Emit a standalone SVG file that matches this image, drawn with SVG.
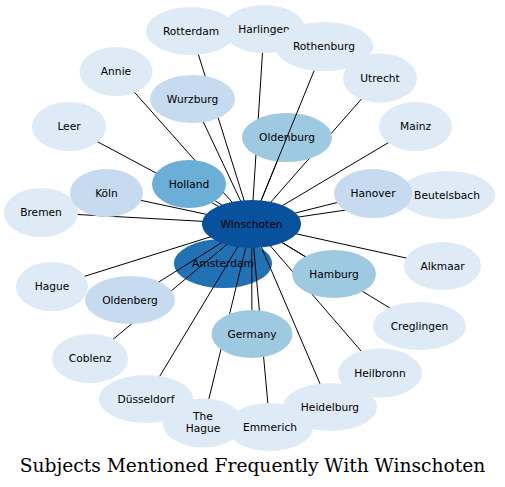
<svg xmlns="http://www.w3.org/2000/svg" width="505" height="487" viewBox="0 0 505 487">
<style>
.n text{font-family:"DejaVu Sans",sans-serif;font-size:10.67px;text-anchor:middle;fill:#000}
.c0{fill:#deebf7}.c1{fill:#c6dbef}.c2{fill:#9ecae1}.c3{fill:#6baed6}.c5{fill:#2171b5}.c6{fill:#08519c}
.edges line{stroke:#000;stroke-width:1}
.title{font-family:"DejaVu Serif",serif;font-size:18.67px;text-anchor:middle;fill:#000}
</style>
<rect width="505" height="487" fill="#fff"/>
<g id="amsterdam" class="n"><ellipse class="c5" cx="223" cy="263.5" rx="49" ry="24.5"/><text x="223" y="267.3">Amsterdam</text></g>
<g id="edges" class="edges">
<line x1="251.5" y1="224" x2="191" y2="31"/>
<line x1="251.5" y1="224" x2="264" y2="29"/>
<line x1="251.5" y1="224" x2="380" y2="78"/>
<line x1="251.5" y1="224" x2="116" y2="71.5"/>
<line x1="251.5" y1="224" x2="192.5" y2="99"/>
<line x1="251.5" y1="224" x2="287" y2="137.5"/>
<line x1="251.5" y1="224" x2="69" y2="126.5"/>
<line x1="251.5" y1="224" x2="415.5" y2="126.5"/>
<line x1="251.5" y1="224" x2="189" y2="184"/>
<line x1="251.5" y1="224" x2="106.5" y2="193"/>
<line x1="251.5" y1="224" x2="41" y2="212.5"/>
<line x1="251.5" y1="224" x2="373" y2="193.5"/>
<line x1="251.5" y1="224" x2="447" y2="195"/>
<line x1="251.5" y1="224" x2="442.5" y2="266"/>
<line x1="251.5" y1="224" x2="334" y2="274"/>
<line x1="251.5" y1="224" x2="419.5" y2="326"/>
<line x1="251.5" y1="224" x2="52" y2="286.5"/>
<line x1="251.5" y1="224" x2="130" y2="300"/>
<line x1="251.5" y1="224" x2="90" y2="358.5"/>
<line x1="251.5" y1="224" x2="252" y2="334"/>
<line x1="251.5" y1="224" x2="380" y2="373"/>
<line x1="251.5" y1="224" x2="146" y2="399"/>
<line x1="251.5" y1="224" x2="203" y2="423"/>
<line x1="251.5" y1="224" x2="270" y2="427"/>
<line x1="251.5" y1="224" x2="330" y2="407"/>
</g>
<g id="oldenburg" class="n"><ellipse class="c2" cx="287" cy="137.5" rx="45" ry="24.5"/><text x="287" y="141.3">Oldenburg</text></g>
<g id="edges-over" class="edges">
<line x1="251.5" y1="224" x2="324" y2="46.5"/>
</g>
<g id="bremen" class="n"><ellipse class="c0" cx="41" cy="212.5" rx="37" ry="24.5"/><text x="41" y="216.3">Bremen</text></g>
<g id="koln" class="n"><ellipse class="c1" cx="106.5" cy="193" rx="36.5" ry="24"/><text x="106.5" y="196.8">Köln</text></g>
<g id="leer" class="n"><ellipse class="c0" cx="69" cy="126.5" rx="37" ry="24.5"/><text x="69" y="130.3">Leer</text></g>
<g id="annie" class="n"><ellipse class="c0" cx="116" cy="71.5" rx="36.5" ry="24.5"/><text x="116" y="75.3">Annie</text></g>
<g id="rotterdam" class="n"><ellipse class="c0" cx="191" cy="31" rx="45" ry="24"/><text x="191" y="34.8">Rotterdam</text></g>
<g id="harlingen" class="n"><ellipse class="c0" cx="264" cy="29" rx="41" ry="24"/><text x="264" y="32.8">Harlingen</text></g>
<g id="rothenburg" class="n"><ellipse class="c0" cx="324" cy="46.5" rx="49" ry="24.5"/><text x="324" y="50.3">Rothenburg</text></g>
<g id="utrecht" class="n"><ellipse class="c0" cx="380" cy="78" rx="37" ry="24.5"/><text x="380" y="81.8">Utrecht</text></g>
<g id="mainz" class="n"><ellipse class="c0" cx="415.5" cy="126.5" rx="36.5" ry="24.5"/><text x="415.5" y="130.3">Mainz</text></g>
<g id="wurzburg" class="n"><ellipse class="c1" cx="192.5" cy="99" rx="42.5" ry="24"/><text x="192.5" y="102.8">Wurzburg</text></g>
<g id="holland" class="n"><ellipse class="c3" cx="189" cy="184" rx="37" ry="24"/><text x="189" y="187.8">Holland</text></g>
<g id="beutelsbach" class="n"><ellipse class="c0" cx="447" cy="195" rx="48" ry="24"/><text x="447" y="198.8">Beutelsbach</text></g>
<g id="hanover" class="n"><ellipse class="c1" cx="373" cy="193.5" rx="39" ry="24.5"/><text x="373" y="197.3">Hanover</text></g>
<g id="alkmaar" class="n"><ellipse class="c0" cx="442.5" cy="266" rx="38.5" ry="24"/><text x="442.5" y="269.8">Alkmaar</text></g>
<g id="hamburg" class="n"><ellipse class="c2" cx="334" cy="274" rx="42" ry="24"/><text x="334" y="277.8">Hamburg</text></g>
<g id="creglingen" class="n"><ellipse class="c0" cx="419.5" cy="326" rx="46.5" ry="24"/><text x="419.5" y="329.8">Creglingen</text></g>
<g id="hague" class="n"><ellipse class="c0" cx="52" cy="286.5" rx="36" ry="24.5"/><text x="52" y="290.3">Hague</text></g>
<g id="oldenberg" class="n"><ellipse class="c1" cx="130" cy="300" rx="45" ry="24"/><text x="130" y="303.8">Oldenberg</text></g>
<g id="coblenz" class="n"><ellipse class="c0" cx="90" cy="358.5" rx="38" ry="24.5"/><text x="90" y="362.3">Coblenz</text></g>
<g id="germany" class="n"><ellipse class="c2" cx="252" cy="334" rx="40.5" ry="24"/><text x="252" y="337.8">Germany</text></g>
<g id="emmerich" class="n"><ellipse class="c0" cx="270" cy="427" rx="43" ry="24"/><text x="270" y="430.8">Emmerich</text></g>
<g id="dusseldorf" class="n"><ellipse class="c0" cx="146" cy="399" rx="47" ry="24"/><text x="146" y="402.8">Düsseldorf</text></g>
<g id="thehague" class="n"><ellipse class="c0" cx="203" cy="423" rx="40" ry="24.5"/><text x="203" y="419.5">The</text><text x="203" y="432.3">Hague</text></g>
<g id="heilbronn" class="n"><ellipse class="c0" cx="380" cy="373" rx="42" ry="24.5"/><text x="380" y="376.8">Heilbronn</text></g>
<g id="heidelburg" class="n"><ellipse class="c0" cx="330" cy="407" rx="47" ry="24"/><text x="330" y="410.8">Heidelburg</text></g>
<g id="winschoten" class="n"><ellipse class="c6" cx="251.5" cy="224" rx="49.5" ry="24"/><text x="251.5" y="227.8">Winschoten</text></g>
<text class="title" x="252.5" y="472">Subjects Mentioned Frequently With Winschoten</text>
</svg>
